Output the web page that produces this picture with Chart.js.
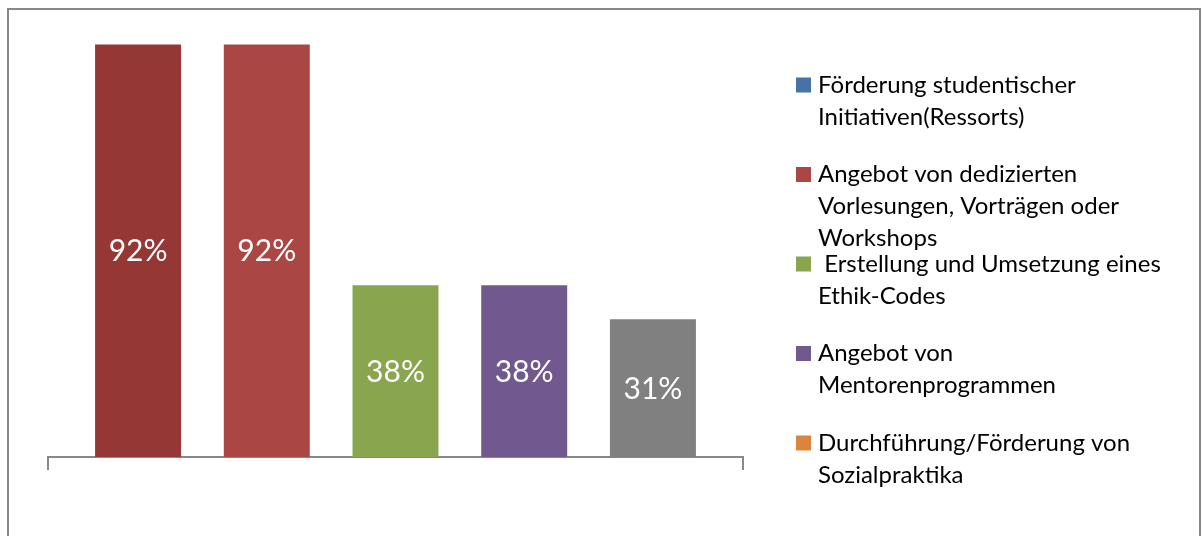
<!DOCTYPE html>
<html>
<head>
<meta charset="utf-8">
<script src="https://cdn.jsdelivr.net/npm/chart.js@4.4.0/dist/chart.umd.min.js"></script>
<style>
  html, body { margin: 0; padding: 0; background: #fff; }
  #wrap { width: 1203px; height: 536px; position: relative; }
</style>
</head>
<body>
<div id="wrap"><canvas id="chart"></canvas></div>
<script>
// one category, five series (Excel style)
const categories = [''];
const seriesNames = [
    'Förderung studentischer Initiativen(Ressorts)',
    'Angebot von dedizierten Vorlesungen, Vorträgen oder Workshops',
    ' Erstellung und Umsetzung eines Ethik-Codes',
    'Angebot von Mentorenprogrammen',
    'Durchführung/Förderung von Sozialpraktika'
];
// legend text as it wraps in the picture
const legendLines = [
    ['Förderung studentischer', 'Initiativen(Ressorts)'],
    ['Angebot von dedizierten', 'Vorlesungen, Vorträgen oder', 'Workshops'],
    [' Erstellung und Umsetzung eines', 'Ethik-Codes'],
    ['Angebot von', 'Mentorenprogrammen'],
    ['Durchführung/Förderung von', 'Sozialpraktika']
];
const seriesValues = [92.3, 92.3, 38.4, 38.4, 30.8];
const barColors = ['#953735', '#AA4643', '#89A54E', '#71588F', '#808080'];
const legendColors = ['#4572A7', '#AA4643', '#89A54E', '#71588F', '#DB843D'];

const FONT = 'Lato, "Open Sans", sans-serif';

const frame = {
    id: 'frame',
    beforeDraw(chart) {
        const ctx = chart.ctx;
        ctx.save();
        ctx.strokeStyle = '#888888';
        ctx.lineWidth = 2;
        ctx.strokeRect(8, 9, 1192, 540);
        ctx.restore();
    }
};

const barLabels = {
    id: 'barLabels',
    afterDatasetsDraw(chart) {
        const ctx = chart.ctx;
        ctx.save();
        ctx.fillStyle = '#ffffff';
        ctx.font = '30px ' + FONT;
        ctx.textAlign = 'center';
        ctx.textBaseline = 'middle';
        chart.data.datasets.forEach((ds, i) => {
            const bar = chart.getDatasetMeta(i).data[0];
            const v = ds.data[0];
            ctx.fillText(Math.round(v) + '%', bar.x, (bar.y + bar.base) / 2 + 1);
        });
        ctx.restore();
    }
};

const sideLegend = {
    id: 'sideLegend',
    afterDraw(chart) {
        const ctx = chart.ctx;
        ctx.save();
        ctx.font = '24px ' + FONT;
        ctx.textBaseline = 'middle';
        ctx.textAlign = 'left';
        legendLines.forEach((lines, i) => {
            const y0 = 85 + i * 89.5;
            ctx.fillStyle = legendColors[i];
            ctx.fillRect(796, y0 - 7.5, 15, 15);
            ctx.fillStyle = '#000000';
            lines.forEach((t, j) => {
                ctx.fillText(t, 818, y0 + j * 32);
            });
        });
        ctx.restore();
    }
};

new Chart(document.getElementById('chart'), {
    type: 'bar',
    data: {
        labels: categories,
        datasets: seriesNames.map((name, i) => ({
            label: name,
            data: [seriesValues[i]],
            backgroundColor: barColors[i],
            borderWidth: 0,
            categoryPercentage: 0.926,
            barPercentage: 0.668
        }))
    },
    options: {
        responsive: true,
        maintainAspectRatio: false,
        animation: false,
        layout: {
            padding: { left: 48, right: 460, top: 10, bottom: 66 }
        },
        plugins: {
            legend: { display: false },
            tooltip: { enabled: false }
        },
        scales: {
            x: {
                grid: {
                    offset: true,
                    drawOnChartArea: false,
                    drawTicks: true,
                    tickLength: 13,
                    color: '#888888',
                    lineWidth: 2
                },
                border: { display: true, color: '#888888', width: 2 },
                ticks: { display: false }
            },
            y: {
                display: false,
                min: 0,
                max: 100
            }
        }
    },
    plugins: [frame, barLabels, sideLegend]
});
</script>
</body>
</html>
